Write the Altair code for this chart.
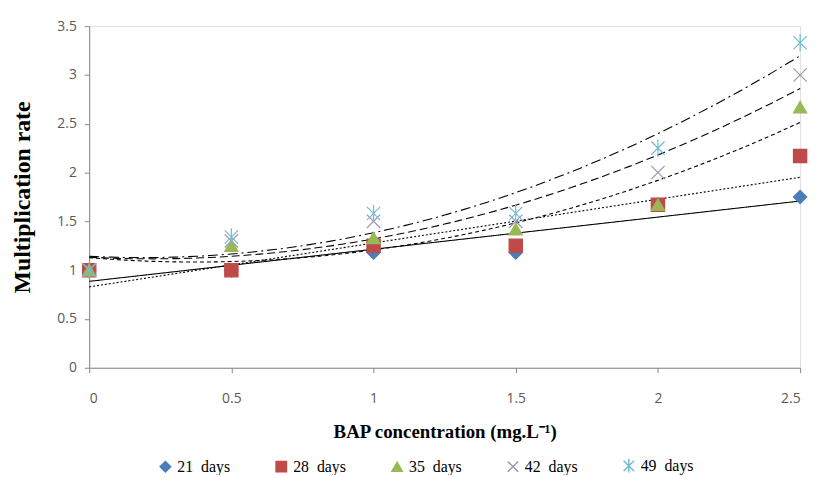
import altair as alt
import pandas as pd

# BAP concentration (mg/L)
bap = [0, 0.5, 1, 1.5, 2, 2.5]
series_names = ["21\u00a0\u00a0days", "28\u00a0\u00a0days", "35\u00a0\u00a0days", "42\u00a0\u00a0days", "49\u00a0\u00a0days"]
d21 = [1.0, 1.0, 1.18, 1.18, 1.67, 1.75]
d28 = [1.0, 1.0, 1.25, 1.25, 1.67, 2.17]
d35 = [1.0, 1.25, 1.33, 1.42, 1.67, 2.67]
d42 = [1.0, 1.30, 1.50, 1.50, 2.00, 3.00]
d49 = [1.0, 1.34, 1.58, 1.58, 2.25, 3.33]
values = [d21, d28, d35, d42, d49]

rows = []
for name, vals in zip(series_names, values):
    for xv, yv in zip(bap, vals):
        rows.append({"x": xv, "y": yv, "series": name})
df = pd.DataFrame(rows)

colors = ["#4A7EBB", "#BE4B48", "#98B954", "#9A98B0", "#6FBCD3"]
x_path = "M-1,-1L1,1M-1,1L1,-1"
star_path = "M-1,-1L1,1M-1,1L1,-1M0,-1.3L0,1.3"
shapes = ["diamond", "square", "triangle-up", x_path, star_path]

trend = [
    ("linear", []),
    ("linear", [2, 2]),
    ("poly", [4, 3]),
    ("poly", [8, 4]),
    ("poly", [10, 4, 2, 4]),
]

xscale = alt.Scale(domain=[0, 2.5], nice=False, zero=False)
yscale = alt.Scale(domain=[0, 3.5], nice=False)

xaxis = alt.Axis(
    title="BAP concentration  (mg.L\u207b\u00b9)",
    values=[0, 0.5, 1, 1.5, 2, 2.5], format=".1~f",
    grid=False, domainColor="#868686", tickColor="#868686", tickSize=5,
    labelFont="Open Sans", labelFontSize=14, labelColor="#595959", labelPadding=19,
    titleFont="Liberation Serif", titleFontSize=19, titleFontWeight="bold",
    titleColor="black", titlePadding=17,
)
yaxis = alt.Axis(
    title="Multiplication rate",
    values=[0, 0.5, 1, 1.5, 2, 2.5, 3, 3.5], format=".1~f",
    grid=False, domainColor="#868686", tickColor="#868686", tickSize=5,
    labelFont="Open Sans", labelFontSize=14, labelColor="#595959", labelPadding=8,
    titleFont="Liberation Serif", titleFontSize=24, titleFontWeight="bold",
    titleColor="black", titlePadding=23,
)

base = alt.Chart(df)

layers = []
for name, (method, dash) in zip(series_names, trend):
    t = base.transform_filter(alt.datum.series == name)
    if method == "poly":
        t = t.transform_regression("x", "y", method="poly", order=2, extent=[0, 2.5])
    else:
        t = t.transform_regression("x", "y", method="linear", extent=[0, 2.5])
    line = t.mark_line(color="black", strokeWidth=1.1, strokeDash=dash if dash else [1, 0]).encode(
        x=alt.X("x:Q", scale=xscale, axis=xaxis),
        y=alt.Y("y:Q", scale=yscale, axis=yaxis),
    )
    layers.append(line)

legend = alt.Legend(
    title=None, orient="none", direction="horizontal", columns=5,
    legendX=69, legendY=436, columnPadding=42,
    labelFont="Liberation Serif", labelFontSize=16, labelColor="black",
    symbolSize=110, labelOffset=4,
)

sdom = alt.Scale(domain=series_names, range=colors)
points = base.mark_point(filled=True, size=180, strokeWidth=1.2, opacity=1).encode(
    x=alt.X("x:Q", scale=xscale, axis=xaxis),
    y=alt.Y("y:Q", scale=yscale, axis=yaxis),
    fill=alt.Fill("series:N", scale=sdom, legend=legend, sort=series_names),
    stroke=alt.Stroke("series:N", scale=sdom, legend=legend, sort=series_names),
    shape=alt.Shape("series:N", scale=alt.Scale(domain=series_names, range=shapes), legend=legend, sort=series_names),
)
layers.append(points)

chart = alt.layer(*layers).properties(
    width=718, height=345,
    autosize=alt.AutoSizeParams(type="none"),
    padding={"left": 82, "top": 16, "right": 12, "bottom": 106},
).configure_view(stroke=None).configure(background="white")

chart.save("out.html", embed_options={"renderer": "svg", "actions": False})
